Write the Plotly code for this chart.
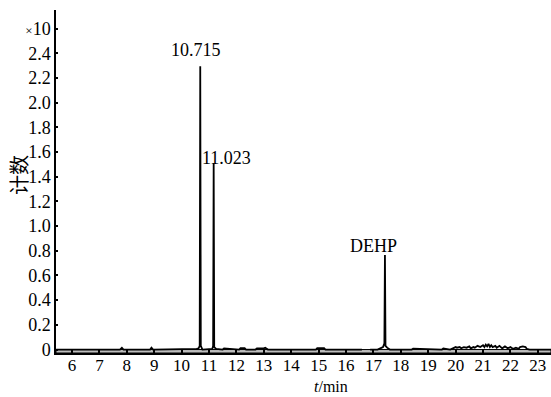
import plotly.graph_objects as go

# Chromatogram trace (retention time in min, counts in units of the axis multiplier)
time_min = [5.42, 7.75, 7.82, 7.88, 8.85, 8.9, 8.96, 10.2, 10.55, 10.62, 10.66, 10.68, 10.70, 10.76,
            11.05, 11.12, 11.15, 11.17, 11.19, 11.26, 11.5, 11.55, 12.1, 12.15, 12.3, 12.35,
            12.7, 12.75, 13.0, 13.05, 13.15, 14.9, 14.95, 15.2, 15.25, 16.58,
            None,
            16.88, 17.15, 17.25, 17.35, 17.40, 17.42, 17.44, 17.5, 17.6, 18.4, 18.45, 19.5, 19.55,
            19.8, 19.9, 20.0, 20.05, 20.15, 20.2, 20.3, 20.4, 20.5, 20.55, 20.65, 20.7, 20.8, 20.9,
            21.0, 21.05, 21.1, 21.15, 21.2, 21.25, 21.3, 21.35, 21.45, 21.5, 21.6, 21.7, 21.8,
            21.9, 22.0, 22.1, 22.2, 22.3, 22.35, 22.45, 22.55, 22.6, 22.7, 23.48]
counts = [0, 0, 0.015, 0, 0, 0.015, 0, 0, 0.005, 0.01, 0.03, 2.295, 0.03, 0,
          0, 0.005, 0.03, 1.51, 0.02, 0.005, 0, 0.01, 0, 0.012, 0.012, 0,
          0, 0.01, 0.01, 0.015, 0, 0, 0.012, 0.012, 0, 0,
          None,
          0, 0, 0.01, 0.02, 0.05, 0.765, 0.03, 0.015, 0, 0, 0.008, 0, 0.008,
          0, 0.01, 0.02, 0.015, 0.02, 0.01, 0.02, 0.015, 0.025, 0.01, 0.02, 0.015, 0.03, 0.02,
          0.035, 0.02, 0.04, 0.025, 0.045, 0.02, 0.035, 0.02, 0.03, 0.015, 0.03, 0.01, 0.025,
          0.01, 0.02, 0.005, 0.015, 0.005, 0.02, 0.025, 0.02, 0.005, 0, 0]

peak_labels = ["10.715", "11.023", "DEHP"]
peak_label_x = [10.52, 11.62, 17.0]
peak_label_y = [2.43, 1.55, 0.84]

y_tickvals = [0, 0.2, 0.4, 0.6, 0.8, 1.0, 1.2, 1.4, 1.6, 1.8, 2.0, 2.2, 2.4, 2.6]
y_ticktext = ["0", "0.2", "0.4", "0.6", "0.8", "1.0", "1.2", "1.4", "1.6", "1.8", "2.0", "2.2", "2.4",
              "<span style='font-size:13px'>×</span>10"]
x_tickvals = list(range(6, 24))

serif = "Liberation Serif"

fig = go.Figure()
fig.add_trace(go.Scatter(x=time_min, y=counts, mode="lines",
                         line=dict(color="black", width=1.8), connectgaps=False,
                         hoverinfo="skip", showlegend=False))

for txt, xx, yy in zip(peak_labels, peak_label_x, peak_label_y):
    fig.add_annotation(x=xx, y=yy, text=txt, showarrow=False,
                       font=dict(family=serif, size=18, color="black"))

# gray band along the time axis
fig.add_shape(type="rect", xref="paper", x0=0, x1=1, yref="y", y0=-0.028, y1=0,
              fillcolor="#bdbdbd", line=dict(color="black", width=1), layer="below")

fig.add_annotation(xref="paper", yref="paper", x=-0.076, y=0.52, text="计数", textangle=-90,
                   showarrow=False, font=dict(family="Noto Sans CJK SC", size=20, color="black"),
                   xanchor="center", yanchor="middle")
fig.add_annotation(xref="paper", yref="paper", x=0.555, y=-0.067, text="<i>t</i>/min",
                   showarrow=False, font=dict(family=serif, size=16, color="black"),
                   xanchor="center", yanchor="top")

fig.update_xaxes(range=[5.416, 23.48], tickvals=x_tickvals, ticks="inside", ticklen=4,
                 tickcolor="black", tickwidth=1.5, showline=True, linecolor="black", linewidth=1.5,
                 showgrid=False, zeroline=False, ticklabelstandoff=-4,
                 tickfont=dict(family=serif, size=17, color="black"))
fig.update_yaxes(range=[-0.028, 2.75], tickvals=y_tickvals, ticktext=y_ticktext, ticks="inside",
                 ticklen=2, tickcolor="black", tickwidth=1.5, showline=True, linecolor="black",
                 linewidth=1.5, showgrid=False, zeroline=False,
                 tickfont=dict(family=serif, size=18, color="black"))

fig.update_layout(width=551, height=397, margin=dict(l=56, r=0, t=10, b=44),
                  plot_bgcolor="white", paper_bgcolor="white")

fig.write_html("out.html")
